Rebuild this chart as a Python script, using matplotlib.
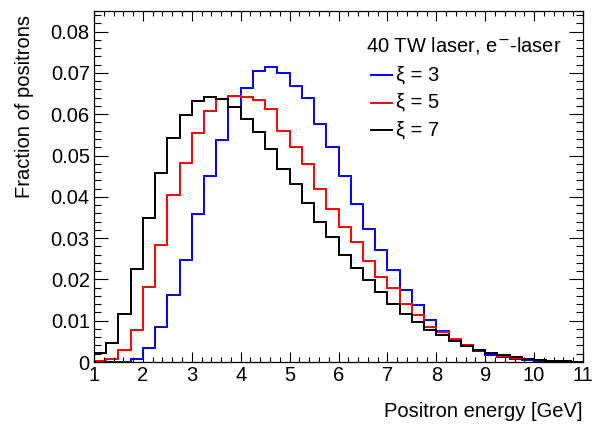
import numpy as np
import matplotlib
matplotlib.use("Agg")
import matplotlib.pyplot as plt
from matplotlib.ticker import MultipleLocator

plt.rcParams['font.family'] = ['Liberation Sans', 'DejaVu Sans']

# Bin edges (GeV)
edges = np.arange(1.0, 11.0001, 0.25)

xi3 = [0.0000, 0.0000, 0.0001, 0.0007, 0.0034, 0.0084, 0.0162, 0.0246, 0.0358, 0.0451,
       0.0538, 0.0618, 0.0664, 0.0704, 0.0714, 0.0701, 0.0669, 0.0639, 0.0576, 0.0521,
       0.0450, 0.0383, 0.0323, 0.0272, 0.0224, 0.0174, 0.0137, 0.0102, 0.0076, 0.0056,
       0.0040, 0.0027, 0.0018, 0.0012, 0.0007, 0.0004, 0.0003, 0.0002, 0.0001, 0.0001]

xi5 = [0.0003, 0.0007, 0.0030, 0.0077, 0.0181, 0.0283, 0.0404, 0.0481, 0.0554, 0.0608,
       0.0636, 0.0644, 0.0641, 0.0634, 0.0612, 0.0560, 0.0521, 0.0479, 0.0420, 0.0370,
       0.0328, 0.0291, 0.0245, 0.0207, 0.0178, 0.0140, 0.0115, 0.0085, 0.0073, 0.0056,
       0.0040, 0.0028, 0.0022, 0.0015, 0.0010, 0.0007, 0.0005, 0.0003, 0.0002, 0.0001]

xi7 = [0.0021, 0.0047, 0.0117, 0.0225, 0.0349, 0.0457, 0.0543, 0.0598, 0.0633, 0.0641,
       0.0638, 0.0617, 0.0588, 0.0557, 0.0516, 0.0467, 0.0431, 0.0385, 0.0339, 0.0303,
       0.0258, 0.0228, 0.0199, 0.0169, 0.0140, 0.0116, 0.0097, 0.0077, 0.0065, 0.0051,
       0.0038, 0.0030, 0.0023, 0.0016, 0.0011, 0.0008, 0.0005, 0.0003, 0.0002, 0.0001]

series = [(xi3, '#0000ff', 'ξ = 3'), (xi5, '#ff0000', 'ξ = 5'), (xi7, '#000000', 'ξ = 7')]
legend_title = '40 TW laser, e$^{-}$-laser'
y_ticks = [0, 0.01, 0.02, 0.03, 0.04, 0.05, 0.06, 0.07, 0.08]
y_ticklabels = ['0', '0.01', '0.02', '0.03', '0.04', '0.05', '0.06', '0.07', '0.08']

FS = 14.5
W, H = 599, 426
fig = plt.figure(figsize=(W / 100, H / 100), dpi=100)
L, R, T, B = 94, 583, 11, 362
ax = fig.add_axes([L / W, (H - B) / H, (R - L) / W, (B - T) / H])

for vals, col, lab in series:
    ax.stairs(vals, edges, color=col, linewidth=1.4, baseline=None)

ax.set_xlim(1, 11)
ax.set_ylim(0, 0.085)
ax.xaxis.set_major_locator(MultipleLocator(1))
ax.xaxis.set_minor_locator(MultipleLocator(0.2))
ax.yaxis.set_minor_locator(MultipleLocator(0.002))
ax.set_yticks(y_ticks)
ax.set_yticklabels(y_ticklabels)

ax.tick_params(axis='both', which='both', direction='in', top=True, right=True,
               labelsize=FS, width=0.8, colors='black')
ax.tick_params(axis='x', which='major', length=7.2, pad=3)
ax.tick_params(axis='x', which='minor', length=3.6)
ax.tick_params(axis='y', which='major', length=10, pad=3)
ax.tick_params(axis='y', which='minor', length=5)
for s in ax.spines.values():
    s.set_linewidth(0.9)

ax.set_xlabel('Positron energy [GeV]', fontsize=FS, ha='right', va='center')
ax.xaxis.set_label_coords(1.0, -0.142)
ax.set_ylabel('Fraction of positrons', fontsize=FS)
ax.yaxis.label.set_horizontalalignment('right')
ax.yaxis.label.set_verticalalignment('center')
ax.yaxis.set_label_coords(-0.142, 0.99)

# Legend (manual, ROOT-like)
def fx(px):
    return px / W
def fy(py):
    return 1 - py / H

fig.text(fx(366), fy(46), legend_title, fontsize=FS, ha='left', va='center')
for i, (vals, col, lab) in enumerate(series):
    yy = 75 + i * 27.5
    fig.add_artist(plt.Line2D([fx(371), fx(392)], [fy(yy), fy(yy)], color=col, linewidth=1.4))
    fig.text(fx(396), fy(yy), lab, fontsize=FS, ha='left', va='center')

fig.savefig('out.png', dpi=100)
